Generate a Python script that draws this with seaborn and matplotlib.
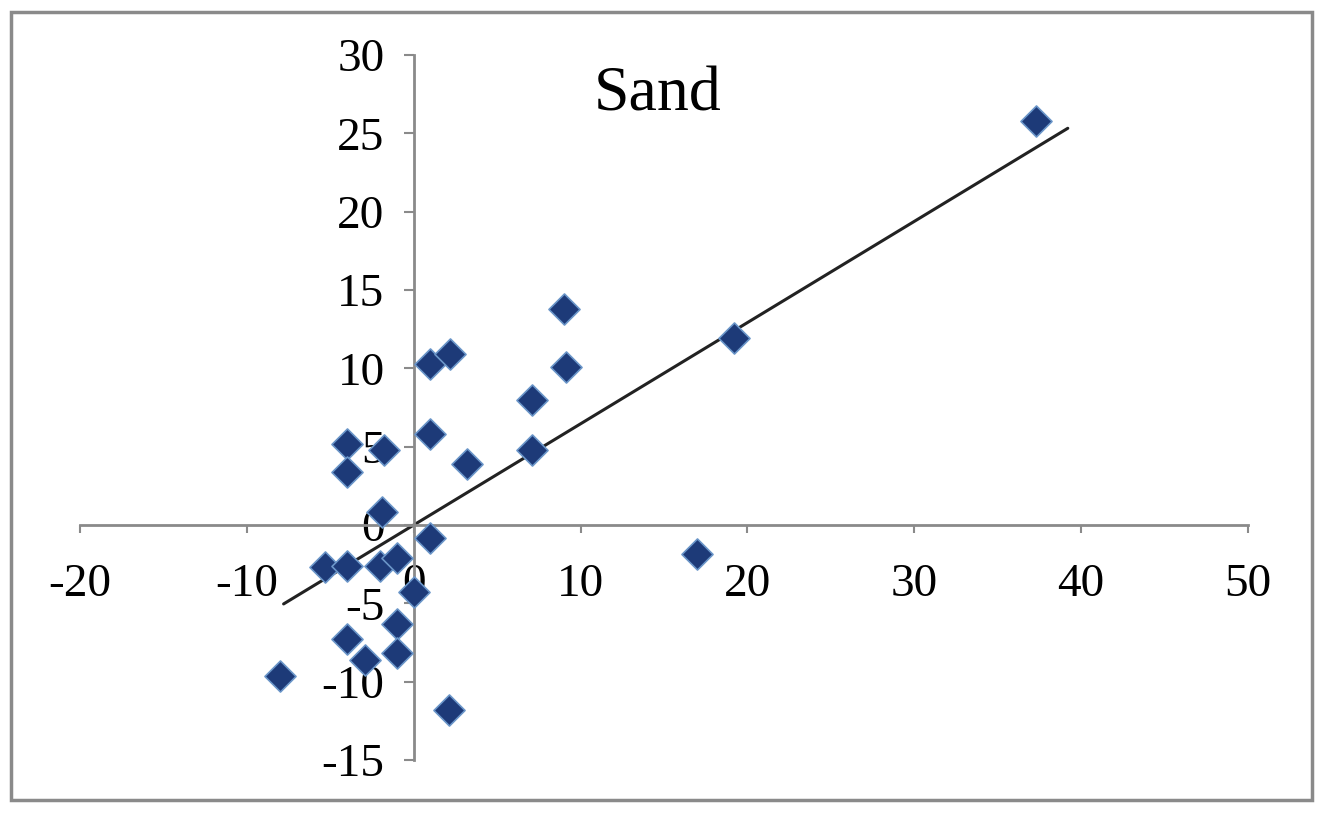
import numpy as np
import pandas as pd
import matplotlib
matplotlib.use("Agg")
import matplotlib.pyplot as plt
import seaborn as sns

# Scatter values
x_vals = [-4.0, -1.8, -4.0, -1.9, 1.0, 1.0, 2.2, 3.2, 7.1, 7.1, 9.1, 9.0,
          1.0, -5.3, -4.0, -2.0, -1.0, 0.0, -1.0, -4.0, -2.9, -1.0, -8.0,
          2.1, 17.0, 19.2, 37.3]
y_vals = [5.2, 4.8, 3.4, 0.8, 5.8, 10.3, 10.9, 3.9, 8.0, 4.8, 10.1, 13.8,
          -0.8, -2.7, -2.6, -2.6, -2.1, -4.3, -6.3, -7.3, -8.6, -8.2, -9.65,
          -11.8, -1.85, 11.95, 25.8]

# Linear trendline as drawn (y = slope * x + intercept)
trend_slope = 0.646
trend_intercept = 0.0
trend_x = [-7.8, 39.2]

x_ticks = [-20, -10, 0, 10, 20, 30, 40, 50]
y_ticks = [-15, -10, -5, 0, 5, 10, 15, 20, 25, 30]
title_text = "Sand"

df = pd.DataFrame({"x": x_vals, "y": y_vals})
trend_df = pd.DataFrame({"x": trend_x})
trend_df["y"] = trend_slope * trend_df["x"] + trend_intercept

sns.set_style("white")
plt.rcParams['font.family'] = ['Liberation Serif', 'DejaVu Serif']
plt.rcParams['axes.unicode_minus'] = False

fig = plt.figure(figsize=(13.23, 8.15), dpi=100)
ax = fig.add_axes([0.0605, 0.0675, 0.8828, 0.865])

sns.lineplot(data=trend_df, x="x", y="y", ax=ax, color="#222222", linewidth=2.2)
sns.scatterplot(data=df, x="x", y="y", ax=ax, marker="D", s=250,
                color="#1d3a78", edgecolor="#6a95c8", linewidth=1.2, zorder=3)

ax.set_xlim(-20, 50)
ax.set_ylim(-15, 30)
ax.set_xticks(x_ticks)
ax.set_yticks(y_ticks)
ax.set_xlabel("")
ax.set_ylabel("")

for side in ["top", "right"]:
    ax.spines[side].set_visible(False)
ax.spines["left"].set_position(("data", 0))
ax.spines["bottom"].set_position(("data", 0))
for side in ["left", "bottom"]:
    ax.spines[side].set_color("#8a8a8a")
    ax.spines[side].set_linewidth(2)

ax.tick_params(axis="x", bottom=True, direction="out", length=6, width=1.5,
               color="#8a8a8a", pad=22, labelsize=34, labelcolor="black")
ax.tick_params(axis="y", left=True, direction="out", length=7, width=1.5,
               color="#8a8a8a", pad=14, labelsize=34, labelcolor="black")
ax.patch.set_alpha(0)

ax.text(0.497, 0.918, title_text, transform=fig.transFigure, ha="center",
        va="top", fontsize=46, color="black")

# outer chart border
border = plt.Rectangle((0.008, 0.018), 0.984, 0.967, transform=fig.transFigure,
                       fill=False, edgecolor="#8a8a8a", linewidth=2.5)
fig.patches.append(border)

fig.savefig("out.png", dpi=100)
